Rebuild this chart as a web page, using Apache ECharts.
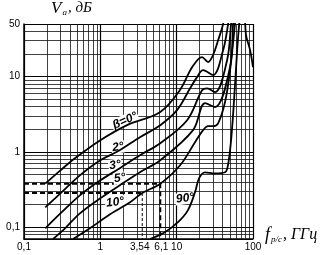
<!DOCTYPE html>
<html><head><meta charset="utf-8">
<script src="https://cdn.jsdelivr.net/npm/echarts@6/dist/echarts.min.js"></script>
<style>html,body{margin:0;padding:0;background:#fff}#c{width:321px;height:255px}</style>
</head><body><div id="c"></div>
<script>
// tick labels
const xTickLabels = [0.1, 1, 3.54, 6.1, 10, 100];
const yTickLabels = [0.1, 1, 10, 50];
// minor grid values
const xMinor = [0.2,0.3,0.4,0.5,0.6,0.7,0.8,0.9,2,3,4,5,6,7,8,9,20,30,40,50,60,70,80,90];
const yMinor = [0.08,0.09,0.2,0.3,0.4,0.5,0.6,0.7,0.8,0.9,2,3,4,5,6,7,8,9,20,30,40];
// curves: [frequency GHz, attenuation dB]
const beta0 = [[0.19,0.38],[0.30,0.57],[0.47,0.83],[1.0,1.43],[2.24,2.27],[6.1,3.4],[11,6.6],[16,13.4],[21.5,18.2],[25.8,15.6],[30,19.4],[35,30.6],[40.6,50],[44,80]];
const beta2 = [[0.19,0.184],[0.30,0.283],[0.54,0.49],[1.0,0.777],[1.7,1.02],[3.3,1.57],[6.1,2.27],[10.1,3.59],[15,7.0],[18.5,9.86],[22.2,12.2],[30,10.5],[40.6,22.5],[47.2,50],[50,80]];
const beta3 = [[0.19,0.097],[0.30,0.153],[0.54,0.266],[1.0,0.421],[1.8,0.61],[3.3,0.906],[6.1,1.31],[13.7,2.64],[21.5,6.6],[25,7.0],[31.8,6.24],[45.8,16.6],[51.6,50],[54,80]];
const beta5 = [[0.24,0.07],[0.345,0.097],[0.54,0.153],[1.0,0.243],[1.8,0.361],[3.3,0.538],[6.1,0.777],[16.4,1.95],[23.6,4.45],[31.8,3.94],[50,13.4],[54.8,50],[57,80]];
const beta10 = [[0.44,0.07],[0.73,0.097],[1.34,0.149],[2.45,0.215],[3.54,0.285],[6.1,0.38],[11.1,0.667],[17.4,1.35],[22.2,1.95],[25.8,2.2],[30,2.2],[34.9,2.4],[43,4.6],[50,12],[58,50],[60,80]];
const beta90 = [[4.5,0.07],[7.0,0.086],[10.4,0.117],[14,0.168],[17.4,0.292],[19.7,0.45],[23.6,0.538],[31.8,0.52],[43,0.538],[47,0.667],[51.6,1.43],[56.5,4.9],[62,22.5],[66,50],[70,80],[76,80],[81,35.7],[91.6,22.5],[100,13.4]];
// worked example (dashed)
const exampleA = [[0.1,0.38],[6.1,0.38],[6.1,0.07]];
const exampleB = [[0.1,0.285],[3.54,0.285]];
const exampleBv = [[3.54,0.285],[3.54,0.07]];
// curve labels: [text, x, y, rotation]
const curveLabels = [['β=0°',2.1,2.6,24],['2°',1.7,1.16,8],['3°',1.56,0.67,8],['5°',1.8,0.45,8],['10°',1.56,0.215,8],['90°',12.9,0.243,8]];

const fmt = v => {
  const s = String(+(+v).toPrecision(3)).replace('.', ',');
  if (s === '3,54') return '{l|' + s + '}';
  if (s === '6,1') return '{r|' + s + '}';
  return s;
};
const chart = echarts.init(document.getElementById('c'));
const curveStyle = {type:'line', showSymbol:false, symbol:'none', smooth:0.35, z:5, lineStyle:{color:'#000', width:1.8}, silent:true};
const gridLine = {symbol:'none', label:{show:false}, silent:true, lineStyle:{color:'#111', width:0.8, type:'solid'}, animation:false};
chart.setOption({
  animation:false,
  grid:{left:24, right:68, top:24, bottom:16},
  xAxis:{type:'log', logBase:10, min:0.1, max:100,
    axisLine:{show:true, onZero:false, lineStyle:{color:'#000', width:1.5}},
    axisTick:{show:false},
    splitLine:{show:true, lineStyle:{color:'#000', width:1.2}},
    axisLabel:{customValues:xTickLabels, formatter:fmt, color:'#000', fontSize:10, fontFamily:'Liberation Sans', margin:3,
      rich:{l:{fontSize:10, padding:[0,5,0,0]}, r:{fontSize:10, padding:[0,0,0,2]}}}},
  yAxis:{type:'log', logBase:10, min:0.07, max:50,
    axisLine:{show:true, onZero:false, lineStyle:{color:'#000', width:1.5}},
    axisTick:{show:false},
    splitLine:{show:true, lineStyle:{color:'#000', width:1.2}},
    axisLabel:{customValues:yTickLabels, formatter:fmt, color:'#000', fontSize:10, fontFamily:'Liberation Sans', margin:4}},
  graphic:[
    {type:'text', left:51, top:0, style:{rich:{v:{fontSize:17, fontStyle:'italic', fontFamily:'Liberation Serif'}, s:{fontSize:9, fontStyle:'italic', fontFamily:'Liberation Serif', padding:[9,1,0,1]}, t:{fontSize:15, fontStyle:'italic', fontFamily:'Liberation Serif'}}, text:'{v|V}{s|a}{t|, дБ}', fill:'#000'}},
    {type:'text', left:265, top:226, style:{rich:{v:{fontSize:18, fontStyle:'italic', fontFamily:'Liberation Serif'}, s:{fontSize:9, fontStyle:'italic', fontFamily:'Liberation Serif', padding:[9,1,0,1]}, t:{fontSize:16, fontStyle:'italic', fontFamily:'Liberation Serif'}}, text:'{v|f}{s|р/с}{t|, ГГц}', fill:'#000'}}
  ],
  series:[
    {type:'line', data:[], z:1, markLine:Object.assign({data:xMinor.map(v=>({xAxis:v})).concat(yMinor.map(v=>({yAxis:v})))}, gridLine)},
    Object.assign({}, curveStyle, {name:'0', data:beta0, markPoint:{symbol:'circle', symbolSize:0, silent:true,
      data:curveLabels.map(l=>({coord:[l[1],l[2]], label:{show:true, formatter:l[0], rotate:l[3], color:'#000', fontSize:12, fontStyle:'italic', fontWeight:'bold', fontFamily:'Liberation Sans', backgroundColor:'#fff', padding:[0,1]}}))}}),
    Object.assign({}, curveStyle, {name:'2', data:beta2}),
    Object.assign({}, curveStyle, {name:'3', data:beta3}),
    Object.assign({}, curveStyle, {name:'5', data:beta5}),
    Object.assign({}, curveStyle, {name:'10', data:beta10}),
    Object.assign({}, curveStyle, {name:'90', data:beta90}),
    {type:'line', data:exampleA, symbol:'none', z:4, silent:true, lineStyle:{color:'#000', width:2, type:[5,3]}},
    {type:'line', data:exampleB, symbol:'none', z:4, silent:true, lineStyle:{color:'#000', width:2, type:[5,3]}},
    {type:'line', data:exampleBv, symbol:'none', z:4, silent:true, lineStyle:{color:'#000', width:1, type:[3,2]}}
  ]
});
</script></body></html>
